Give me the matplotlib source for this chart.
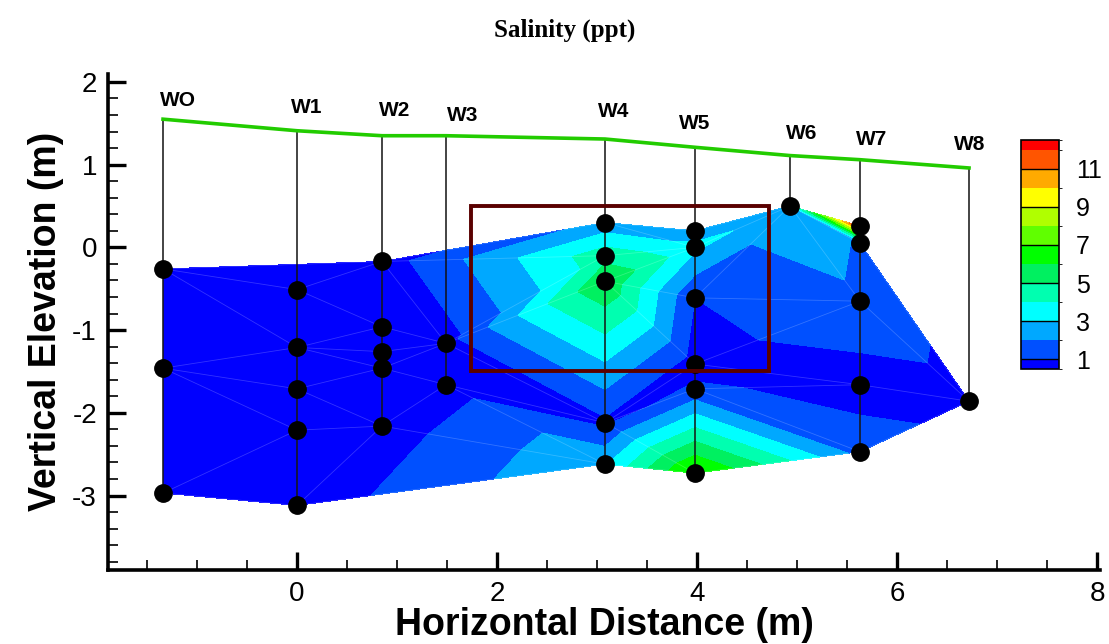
import numpy as np
import matplotlib
matplotlib.use("Agg")
import matplotlib.pyplot as plt
import matplotlib.tri as mtri
from matplotlib.path import Path
from matplotlib.colors import ListedColormap, BoundaryNorm
from matplotlib.cm import ScalarMappable
from matplotlib.patches import Rectangle

plt.rcParams['axes.unicode_minus'] = False

# ---------------- data ----------------
well_names = ['WO', 'W1', 'W2', 'W3', 'W4', 'W5', 'W6', 'W7', 'W8']
well_x = [-1.34, 0.0, 0.85, 1.49, 3.08, 3.98, 4.93, 5.63, 6.72]
ground_z = [1.55, 1.41, 1.35, 1.35, 1.31, 1.21, 1.11, 1.06, 0.96]
label_x = [-1.19, 0.10, 0.98, 1.66, 3.17, 3.98, 5.05, 5.75, 6.73]
label_z = [1.78, 1.69, 1.65, 1.59, 1.64, 1.50, 1.38, 1.31, 1.24]

# samples: well index, elevation (m), salinity (ppt)
sample_well = [0, 0, 0,
               1, 1, 1, 1, 1,
               2, 2, 2, 2, 2,
               3, 3,
               4, 4, 4, 4, 4,
               5, 5, 5, 5, 5, 5,
               6,
               7, 7, 7, 7, 7,
               8]
sample_z = [-0.26, -1.46, -2.97,
            -0.51, -1.21, -1.71, -2.21, -3.12,
            -0.17, -0.96, -1.26, -1.46, -2.16,
            -1.16, -1.66,
            0.30, -0.10, -0.41, -2.12, -2.62,
            0.20, 0.00, -0.61, -1.41, -1.71, -2.73,
            0.50,
            0.26, 0.05, -0.65, -1.66, -2.47,
            -1.86]
sample_sal = [0.3, 0.3, 0.3,
              0.4, 0.4, 0.4, 0.4, 0.4,
              0.5, 0.4, 0.4, 0.4, 0.5,
              0.6, 0.6,
              2.3, 4.6, 5.9, 0.8, 2.9,
              2.6, 3.2, 1.0, 0.5, 1.2, 7.3,
              2.7,
              12.5, 1.9, 1.8, 0.5, 1.6,
              0.5]

# outline of the sampled domain (indices into samples, clockwise)
outline_idx = [0, 8, 15, 20, 26, 27, 28, 32, 31, 25, 19, 7, 2]

contour_levels = [-1, 1, 2, 3, 4, 5, 6, 7, 8, 9, 10, 11, 12, 20]
band_colors = ['#0000FF', '#0050FF', '#00A8FF', '#00FFFF', '#00FFB0', '#00F060',
               '#00FF00', '#60FF00', '#B0FF00', '#FFFF00', '#FFAA00', '#FF5500', '#FF0000']
cbar_bounds = [0.5, 1, 2, 3, 4, 5, 6, 7, 8, 9, 10, 11, 12, 12.5]
cbar_ticks = [1, 3, 5, 7, 9, 11]

box_x = [1.74, 4.72]
box_z = [-1.50, 0.50]

# ---------------- figure ----------------
fig = plt.figure(figsize=(11.09, 6.44), dpi=100)
ax = fig.add_axes([0.0974, 0.1149, 0.8945, 0.7707])

px = np.array([well_x[w] for w in sample_well])
pz = np.array(sample_z)
ps = np.array(sample_sal)

tri = mtri.Triangulation(px, pz)
outline = Path(np.column_stack([px[outline_idx], pz[outline_idx]]))
cent = np.column_stack([px[tri.triangles].mean(axis=1), pz[tri.triangles].mean(axis=1)])
tri.set_mask(~outline.contains_points(cent))

ax.tricontourf(tri, ps, levels=contour_levels, colors=band_colors, zorder=1)
ax.triplot(tri, color=(1, 1, 1, 0.2), lw=0.6, zorder=2)

# well casings
for i, x in enumerate(well_x):
    zs = [sample_z[k] for k in range(len(sample_z)) if sample_well[k] == i]
    ax.plot([x, x], [ground_z[i], min(zs)], color='#111111', lw=1.1, zorder=3)
    ax.text(label_x[i], label_z[i], well_names[i], ha='center', va='center',
            fontsize=15, fontweight='bold', family='Liberation Sans', zorder=5)

ax.plot(well_x, ground_z, color='#22CC00', lw=2.6, zorder=4)
ax.plot(px, pz, 'o', color='black', ms=12.5, zorder=6)

ax.add_patch(Rectangle((box_x[0], box_z[0]), box_x[1] - box_x[0], box_z[1] - box_z[0],
                       fill=False, edgecolor='#5A0000', lw=2.8, zorder=7))

ax.set_xlim(-1.89, 8.03)
ax.set_ylim(-3.9, 2.1)
ax.set_xticks([0, 2, 4, 6, 8])
ax.set_xticks(np.arange(-1.5, 8.01, 0.5), minor=True)
ax.set_yticks([-3, -2, -1, 0, 1, 2])
ax.set_yticks(np.arange(-3.8, 2.01, 0.2), minor=True)
for s in ['top', 'right']:
    ax.spines[s].set_visible(False)
for s in ['left', 'bottom']:
    ax.spines[s].set_linewidth(2.6)
ax.tick_params(which='major', direction='in', length=13, width=2.4, labelsize=20, pad=8)
ax.tick_params(which='minor', direction='in', length=7.5, width=1.2)
for lab in ax.get_xticklabels() + ax.get_yticklabels():
    lab.set_family('Liberation Sans')
ax.set_xlabel('Horizontal Distance (m)', fontsize=27, fontweight='bold',
              family='Liberation Sans', labelpad=0)
ax.set_ylabel('Vertical Elevation (m)', fontsize=27, fontweight='bold',
              family='Liberation Sans', labelpad=6)

fig.text(0.5095, 0.953, 'Salinity (ppt)', ha='center', va='center', fontsize=18,
         fontweight='bold', family='Liberation Serif')

# colorbar
cax = fig.add_axes([0.9206, 0.427, 0.0343, 0.3556])
sm = ScalarMappable(norm=BoundaryNorm(cbar_bounds, len(band_colors)),
                    cmap=ListedColormap(band_colors))
cb = fig.colorbar(sm, cax=cax, ticks=cbar_ticks, spacing='proportional')
cb.outline.set_linewidth(1.2)
for t in cbar_ticks:
    cax.axhline(t, color='black', lw=1.0)
cax.tick_params(length=0, labelsize=18, pad=12)
for lab in cax.get_yticklabels():
    lab.set_family('Liberation Sans')

fig.savefig('out.png', dpi=100)
